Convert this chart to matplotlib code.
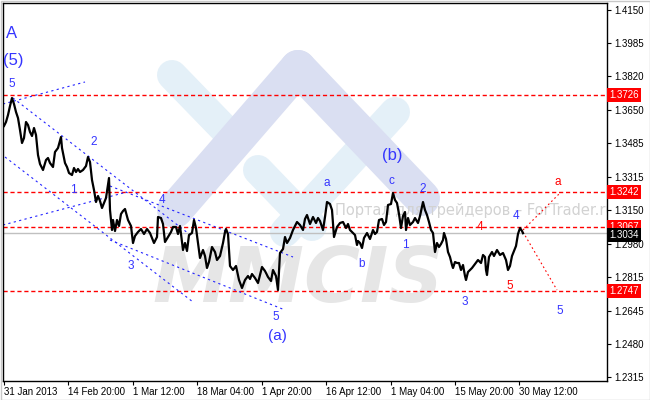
import matplotlib
matplotlib.use("Agg")
import matplotlib.pyplot as plt
from matplotlib.transforms import Affine2D, blended_transform_factory
from matplotlib.patches import Rectangle

LABEL_BLUE = "#3535ff"
CHANNEL_BLUE = "#2424ff"
LEVEL_RED = "#ff0000"
LOGO_BLUE = "#e4f0f8"
LOGO_LAVENDER = "#dadff2"
MARK_GRAY = "#e6e6e6"
AXIS_FONT = "Liberation Sans"

# price path (H4 bar index, close)
bars = [1, 3, 5, 7, 9, 11, 13, 15, 17, 19, 21, 23, 25, 27, 29, 31, 33, 35, 37, 40,
        43, 45, 47, 50, 52, 55, 58, 59, 62, 64, 66, 69, 71, 73, 75, 77, 80, 83, 85, 87,
        89, 91, 93, 95, 97, 99, 101, 103, 105, 106, 107, 109, 110, 112, 114, 116, 118, 120, 122, 125,
        128, 130, 132, 135, 138, 141, 144, 147, 149, 151, 154, 155, 158, 160, 162, 165, 168, 170, 173, 175,
        177, 180, 182, 184, 186, 189, 191, 193, 195, 197, 200, 202, 204, 206, 209, 212, 214, 217, 220, 222,
        223, 225, 227, 230, 233, 236, 239, 242, 245, 247, 249, 252, 255, 257, 259, 262, 265, 268, 270, 273,
        275, 277, 280, 282, 284, 287, 290, 292, 294, 297, 300, 302, 304, 307, 310, 313, 315, 317, 320, 322,
        324, 327, 329, 331, 334, 337, 340, 343, 345, 347, 349, 352, 354, 355, 357, 359, 361, 364, 367, 370,
        372, 374, 376, 379, 381, 383, 385, 388, 390, 392, 394, 396, 398, 400, 402, 403, 405, 407, 410, 412,
        415, 417, 420, 422, 424, 426, 428, 430, 432, 434, 436, 438, 440, 441, 443, 445, 447, 449, 450, 452,
        454, 456, 458, 460, 462, 463, 465, 467, 469, 472, 475, 478, 480, 482, 483, 484, 486, 489, 491, 494,
        497, 500, 503, 505, 507, 509, 511, 513, 515, 517, 519, 520]
closes = [1.3570, 1.3590, 1.3625, 1.3670, 1.3710, 1.3680, 1.3640, 1.3610, 1.3550, 1.3485,
          1.3510, 1.3590, 1.3575, 1.3540, 1.3520, 1.3560, 1.3525, 1.3425, 1.3380, 1.3350,
          1.3400, 1.3410, 1.3385, 1.3365, 1.3440, 1.3460, 1.3515, 1.3460, 1.3385, 1.3365,
          1.3335, 1.3325, 1.3360, 1.3340, 1.3355, 1.3340, 1.3350, 1.3370, 1.3415, 1.3390,
          1.3300, 1.3250, 1.3190, 1.3220, 1.3195, 1.3160, 1.3185, 1.3210, 1.3275, 1.3310,
          1.3150, 1.3050, 1.3100, 1.3045, 1.3100, 1.3070, 1.3130, 1.3145, 1.3155, 1.3100,
          1.3070, 1.2985, 1.3020, 1.3040, 1.3055, 1.3030, 1.3055, 1.3035, 1.3010, 1.2985,
          1.3015, 1.3115, 1.3110, 1.3080, 1.2990, 1.3015, 1.3040, 1.3065, 1.3065, 1.3030,
          1.3070, 1.2950, 1.2985, 1.2945, 1.3025, 1.3035, 1.3100, 1.3060, 1.2985, 1.2910,
          1.2950, 1.2920, 1.2860, 1.2890, 1.2965, 1.2940, 1.2900, 1.2920, 1.2985, 1.3040,
          1.3055, 1.3030, 1.2870, 1.2850, 1.2870, 1.2800, 1.2760, 1.2800, 1.2820, 1.2805,
          1.2830, 1.2810, 1.2785, 1.2825, 1.2865, 1.2845, 1.2815, 1.2795, 1.2850, 1.2820,
          1.2750, 1.2935, 1.2955, 1.3015, 1.2985, 1.3010, 1.3050, 1.3070, 1.3090, 1.3075,
          1.3050, 1.3105, 1.3125, 1.3080, 1.3115, 1.3085, 1.3110, 1.3095, 1.3050, 1.3115,
          1.3190, 1.3180, 1.3150, 1.3015, 1.3065, 1.3085, 1.3090, 1.3060, 1.3080, 1.3050,
          1.3040, 1.3025, 1.2975, 1.2995, 1.2985, 1.2960, 1.3010, 1.3035, 1.3005, 1.3050,
          1.3030, 1.3040, 1.3100, 1.3105, 1.3075, 1.3090, 1.3175, 1.3180, 1.3235, 1.3200,
          1.3185, 1.3130, 1.3060, 1.3120, 1.3140, 1.3050, 1.3110, 1.3075, 1.3090, 1.3110,
          1.3085, 1.3120, 1.3190, 1.3150, 1.3125, 1.3090, 1.3050, 1.3035, 1.2940, 1.2985,
          1.2965, 1.2980, 1.3000, 1.3035, 1.3005, 1.2940, 1.2915, 1.2875, 1.2860, 1.2890,
          1.2885, 1.2885, 1.2850, 1.2875, 1.2820, 1.2800, 1.2840, 1.2850, 1.2860, 1.2880,
          1.2900, 1.2885, 1.2925, 1.2915, 1.2850, 1.2825, 1.2915, 1.2940, 1.2920, 1.2950,
          1.2925, 1.2935, 1.2900, 1.2850, 1.2870, 1.2920, 1.2945, 1.2970, 1.3030, 1.3060,
          1.3045, 1.3034]

levels = [1.3726, 1.3242, 1.3067, 1.2747]
last_price = 1.3034

y_ticks = [1.4150, 1.3985, 1.3820, 1.3650, 1.3485, 1.3315, 1.3150,
           1.2980, 1.2815, 1.2645, 1.2480, 1.2315]
x_ticks = [1, 65, 130, 194, 259, 323, 388, 452, 516]
x_labels = ["31 Jan 2013", "14 Feb 20:00", "1 Mar 12:00", "18 Mar 04:00", "1 Apr 20:00",
            "16 Apr 12:00", "1 May 04:00", "15 May 20:00", "30 May 12:00"]

# channel lines: (bar0, price0, bar1, price1)
channels = [
    (0, 1.3680, 82, 1.3790),
    (10, 1.3710, 190, 1.3015),
    (107, 1.3270, 290, 1.2915),
    (2, 1.3415, 190, 1.2690),
    (107, 1.3000, 282, 1.2650),
    (0, 1.3075, 124, 1.3240),
]
forecast = [
    (520, 1.3050, 557, 1.3235),
    (520, 1.3040, 554, 1.2750),
]

wave_text = ["A", "(5)", "5", "2", "1", "3", "4", "5", "(a)",
             "a", "b", "c", "(b)", "1", "2", "3", "4", "4", "5", "5", "a"]
wave_bar = [9, 10, 9, 91, 70, 128, 159, 273, 274,
            324, 359, 388, 389, 402, 420, 462, 477, 513, 507, 557, 555]
wave_price = [1.4035, 1.3900, 1.3780, 1.3490, 1.3250, 1.2870, 1.3200, 1.2615, 1.2520,
              1.3285, 1.2880, 1.3295, 1.3425, 1.2975, 1.3255, 1.2690, 1.3065, 1.3120,
              1.2770, 1.2645, 1.3290]
wave_color = ["b", "b", "b", "b", "b", "b", "b", "b", "b",
              "b", "b", "b", "b", "b", "b", "b", "r", "b", "r", "b", "r"]
wave_size = [12, 12, 8.5, 8.5, 8.5, 8.5, 8.5, 8.5, 11,
             8.5, 8.5, 8.5, 12, 8.5, 8.5, 8.5, 8.5, 8.5, 8.5, 8.5, 8.5]

fig = plt.figure(figsize=(6.5, 4), dpi=100)
fig.patch.set_facecolor("white")
ax = fig.add_axes([3 / 650, 19 / 400, 604 / 650, 378 / 400])
ax.set_xlim(0, 604)
ax.set_ylim(1.2295, 1.4185)

# pixel transform for the watermark
px = Affine2D().scale(1 / 650, -1 / 400).translate(0, 1) + fig.transFigure

bands = [
    ((172, 235), (75, 140), LOGO_BLUE, 30),
    ((258, 312), (170, 226), LOGO_BLUE, 30),
    ((285, 395), (232, 112), LOGO_BLUE, 30),
    ((175, 298), (210, 68), LOGO_LAVENDER, 36),
    ((298, 422), (68, 198), LOGO_LAVENDER, 36),
]
for xs, ys, col, w in bands:
    ax.plot(xs, ys, transform=px, color=col, lw=w * 0.72,
            solid_capstyle="round", zorder=0)
ax.text(152, 302, "MMCIS", transform=px, fontsize=55, fontweight="bold",
        style="italic", color=MARK_GRAY, ha="left", va="baseline", zorder=0.5)
ax.text(335, 215, "Портал для трейдеров – ForTrader.ru", transform=px,
        fontsize=10.5, color="#d2d2d2", ha="left", va="baseline", zorder=0.5,
        clip_on=True)

for lv in levels:
    ax.axhline(lv, color=LEVEL_RED, lw=1, ls=(0, (3, 2)), zorder=2)
ax.axhline(last_price, color="#c0c0c0", lw=1, zorder=1.5)

for b0, p0, b1, p1 in channels:
    ax.plot([b0, b1], [p0, p1], color=CHANNEL_BLUE, lw=0.8, ls=(0, (2, 3)), zorder=2)
for b0, p0, b1, p1 in forecast:
    ax.plot([b0, b1], [p0, p1], color=LEVEL_RED, lw=0.8, ls=(0, (1.5, 2.5)), zorder=2)

ax.plot(bars, closes, color="black", lw=1.6, zorder=3)

for t, b, p, c, s in zip(wave_text, wave_bar, wave_price, wave_color, wave_size):
    ax.text(b, p, t, color=LABEL_BLUE if c == "b" else LEVEL_RED, fontsize=s,
            family="Liberation Sans", ha="center", va="center", zorder=4)

# axes styling, MT4 look
for sp in ax.spines.values():
    sp.set_color("black")
    sp.set_linewidth(1)
ax.yaxis.tick_right()
ax.set_yticks(y_ticks)
ax.set_yticklabels([f"{v:.4f}" for v in y_ticks], family=AXIS_FONT)
ax.set_xticks(x_ticks)
ax.set_xticklabels(x_labels, ha="left", family=AXIS_FONT)
ax.tick_params(axis="both", direction="out", length=3, width=0.8,
               labelsize=7, colors="black", pad=2)
ax.tick_params(axis="x", pad=1.5)

tr = blended_transform_factory(ax.transAxes, ax.transData)
for lv in levels:
    ax.text(1.004, lv, f"{lv:.4f}", transform=tr, fontsize=7, family=AXIS_FONT,
            color="white", ha="left", va="center", clip_on=False, zorder=6,
            bbox=dict(boxstyle="square,pad=0.2", fc=LEVEL_RED, ec="none"))
ax.text(1.004, last_price - 0.0009, f"{last_price:.4f}", transform=tr, fontsize=7,
        family=AXIS_FONT, color="white", ha="left", va="center", clip_on=False,
        zorder=6, bbox=dict(boxstyle="square,pad=0.2", fc="black", ec="none"))

fig.add_artist(Rectangle((0.5 / 650, 0.5 / 400), 649 / 650, 399 / 400,
                         transform=fig.transFigure, fill=False,
                         ec="#c8c8c8", lw=1))

fig.savefig("out.png", dpi=100)
